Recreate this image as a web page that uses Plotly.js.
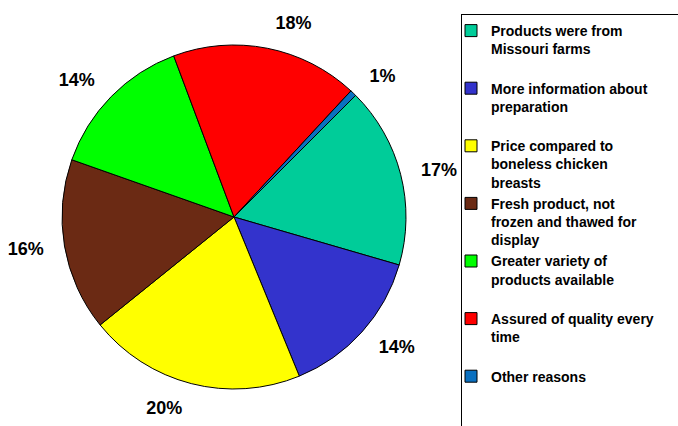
<!DOCTYPE html>
<html>
<head>
<meta charset="utf-8">
<script src="https://cdn.plot.ly/plotly-3.0.1.min.js"></script>
<style>html,body{margin:0;padding:0;background:#fff;}#chart{width:678px;height:426px;}</style>
</head>
<body>
<div id="chart"></div>
<script>
// Reasons (legend labels, in clockwise order starting at the teal slice)
var categories = [
  "Products were from<br>Missouri farms<br>\u00a0",
  "More information about<br>preparation<br>\u00a0",
  "Price compared to<br>boneless chicken<br>breasts",
  "Fresh product, not<br>frozen and thawed for<br>display",
  "Greater variety of<br>products available<br>\u00a0",
  "Assured of quality every<br>time<br>\u00a0",
  "Other reasons<br>" + "\u00a0".repeat(60) + "<br>\u00a0"
];
// Share of respondents (percent)
var shares = [17.0, 14.3, 20.4, 16.2, 13.9, 17.6, 0.6];
var sliceColors = ["#00CC99", "#3333CC", "#FFFF00", "#6B2A14", "#00FF00", "#FF0000", "#0A70C0"];

var FONT = "Liberation Sans, Arial, sans-serif";
var W = 678, H = 426;
var cx = 234, cy = 217, r = 172;   // pie
var rLabel = 188;                  // ring on which the percentage labels sit

function domainFor(rad) {
  return {
    x: [(cx - rad) / W, (cx + rad) / W],
    y: [(H - cy - rad) / H, (H - cy + rad) / H]
  };
}

var pie = {
  type: "pie",
  labels: categories,
  values: shares,
  sort: false,
  direction: "clockwise",
  rotation: 45,
  marker: {colors: sliceColors, line: {color: "#000000", width: 1}},
  textinfo: "none",
  hoverinfo: "label+percent",
  domain: domainFor(r),
  automargin: false
};

// same data, transparent, only used to place the percentage labels a bit further out
var labelRing = {
  type: "pie",
  labels: categories,
  values: shares,
  sort: false,
  direction: "clockwise",
  rotation: 45,
  marker: {colors: sliceColors.map(function () { return "rgba(0,0,0,0)"; }), line: {width: 0}},
  textposition: "outside",
  texttemplate: "%{percent:.0%}",
  outsidetextfont: {family: FONT, size: 18, color: "#000000", weight: "bold"},
  hoverinfo: "skip",
  showlegend: false,
  domain: domainFor(rLabel),
  automargin: false
};

var layout = {
  width: W, height: H,
  margin: {l: 0, r: 0, t: 0, b: 0, pad: 0, autoexpand: false},
  paper_bgcolor: "#ffffff",
  plot_bgcolor: "#ffffff",
  showlegend: true,
  legend: {
    x: 461 / W, y: 1 - 14 / H, xanchor: "left", yanchor: "top",
    bgcolor: "#ffffff", bordercolor: "#000000", borderwidth: 1,
    font: {family: FONT, size: 14, color: "#000000", weight: "bold"},
    valign: "top",
    indentation: -11,
    tracegroupgap: 0
  },
  font: {family: FONT}
};

Plotly.newPlot("chart", [pie, labelRing], layout, {staticPlot: true, displayModeBar: false});
</script>
</body>
</html>
